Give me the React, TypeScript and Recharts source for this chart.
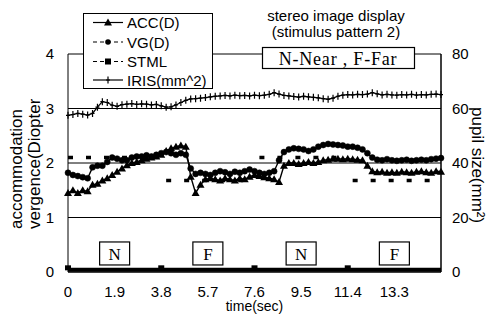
import { LineChart, Line, XAxis, YAxis, CartesianGrid, ReferenceDot } from "recharts";

document.body.style.margin = "0";

const FONT = '"Liberation Sans", Arial, sans-serif';
const SERIF = '"Liberation Serif", "Times New Roman", serif';

// time (sec), sampled every 0.2 s
const times = [
  0, 0.2, 0.4, 0.6, 0.8, 1.0, 1.2, 1.4, 1.6, 1.8,
  2.0, 2.2, 2.4, 2.6, 2.8, 3.0, 3.2, 3.4, 3.6, 3.8,
  4.0, 4.2, 4.4, 4.6, 4.8, 5.0, 5.2, 5.4, 5.6, 5.8,
  6.0, 6.2, 6.4, 6.6, 6.8, 7.0, 7.2, 7.4, 7.6, 7.8,
  8.0, 8.2, 8.4, 8.6, 8.8, 9.0, 9.2, 9.4, 9.6, 9.8,
  10.0, 10.2, 10.4, 10.6, 10.8, 11.0, 11.2, 11.4, 11.6, 11.8,
  12.0, 12.2, 12.4, 12.6, 12.8, 13.0, 13.2, 13.4, 13.6, 13.8,
  14.0, 14.2, 14.4, 14.6, 14.8, 15.0, 15.2,
];

// accommodation (D)
const acc = [
  1.45, 1.5, 1.45, 1.5, 1.48, 1.6, 1.62, 1.68, 1.72, 1.78,
  1.84, 1.9, 1.96, 2.0, 2.02, 2.05, 2.08, 2.1, 2.12, 2.15,
  2.22, 2.27, 2.3, 2.32, 2.3, 1.75, 1.45, 1.6, 1.7, 1.72,
  1.7, 1.68, 1.72, 1.7, 1.68, 1.72, 1.7, 1.75, 1.78, 1.76,
  1.74, 1.72, 1.7, 1.65, 1.95, 2.0, 2.0, 1.98, 2.0, 2.02,
  2.0, 2.02, 2.05, 2.06, 2.08, 2.08, 2.07, 2.08, 2.07, 2.06,
  2.05, 1.95, 1.85, 1.83, 1.84, 1.82, 1.83, 1.82, 1.84, 1.83,
  1.82, 1.84, 1.85, 1.83, 1.82, 1.85, 1.84,
];

// vergence (D)
const vg = [
  1.82, 1.78, 1.76, 1.74, 1.72, 1.92, 1.95, 1.95, 2.02, 2.1,
  2.08, 2.05, 2.05, 2.1, 2.12, 2.12, 2.14, 2.12, 2.15, 2.18,
  2.2, 2.18, 2.15, 2.18, 2.15, 1.9, 1.8, 1.82, 1.8, 1.78,
  1.82, 1.85, 1.83, 1.8, 1.84, 1.82, 1.85, 1.88, 1.85, 1.82,
  1.8, 1.82, 1.85, 2.05, 2.2, 2.25, 2.27, 2.26, 2.25, 2.22,
  2.25, 2.3, 2.33, 2.35, 2.34, 2.33, 2.32, 2.3, 2.3, 2.28,
  2.25, 2.18, 2.1, 2.06, 2.05, 2.07, 2.05, 2.04, 2.05, 2.06,
  2.04, 2.05, 2.06, 2.05, 2.07, 2.08, 2.09,
];

// stimulus (D): N = near, F = far
const stml = [
  2.1, 2.1, 2.1, 2.1, 2.1, 2.1, 2.1, 2.1, 2.1, 2.1,
  2.1, 2.1, 2.1, 2.1, 2.1, 2.1, 2.1, 2.1, 2.1, null,
  1.68, 1.68, 1.68, 1.68, 1.68, 1.68, 1.68, 1.68, 1.68, 1.68,
  1.68, 1.68, 1.68, 1.68, 1.68, 1.68, 1.68, 1.68, null, 2.1,
  2.1, 2.1, 2.1, 2.1, 2.1, 2.1, 2.1, 2.1, 2.1, 2.1,
  2.1, 2.1, 2.1, 2.1, 2.1, 2.1, 2.1, null, 1.68, 1.68,
  1.68, 1.68, 1.68, 1.68, 1.68, 1.68, 1.68, 1.68, 1.68, 1.68,
  1.68, 1.68, 1.68, 1.68, 1.68, 1.68, 1.68,
];

// pupil area (mm^2), right axis
const iris = [
  57.5, 57.8, 58.2, 57.9, 57.6, 58.2, 60.5, 62.5, 62.2, 61.2,
  60.8, 61.4, 61.6, 61.8, 61.5, 61.7, 61.6, 61.3, 61.5, 61.0,
  60.5, 60.6, 61.3, 62.2, 63.0, 63.5, 63.6, 63.8, 64.0, 64.3,
  64.5, 64.6, 64.8, 64.6, 64.9, 64.7, 64.8, 64.6, 64.9, 64.7,
  64.9, 65.2, 65.8, 65.3, 64.8, 64.6, 64.4, 64.2, 64.5, 64.3,
  64.1, 63.9, 63.6, 63.4, 63.8, 64.5, 64.9, 65.1, 65.0, 65.2,
  65.1, 65.3, 65.8, 65.4, 65.0, 65.2, 65.0, 64.9, 65.1, 65.0,
  65.2, 64.9, 65.1, 65.0, 65.2, 65.3, 65.1,
];

// trigger channel drawn along the bottom
const triggerLevel = 0.04;
const triggerTimes = [0, 3.8, 7.6, 11.4];

const xTicks = [0, 1.9, 3.8, 5.7, 7.6, 9.5, 11.4, 13.3];
const leftTicks = [0, 1, 2, 3, 4];
const rightTicks = [0, 20, 40, 60, 80];

const stimTimes = [1.9, 5.7, 9.5, 13.3];
const stimLabels = ["N", "F", "N", "F"];
const stimBoxLevel = 0.34;

const data = times.map((t, i) => ({
  t,
  acc: acc[i],
  vg: vg[i],
  stml: stml[i],
  iris: iris[i],
  trig: triggerLevel,
}));

function TriangleDot(props: any) {
  const { cx, cy, index } = props;
  if (cx == null || cy == null) return <g key={index} />;
  return (
    <path
      key={index}
      d={`M${cx},${cy - 4}L${cx + 4},${cy + 3}L${cx - 4},${cy + 3}Z`}
      fill="#000"
    />
  );
}

function PlusDot(props: any) {
  const { cx, cy, index } = props;
  if (cx == null || cy == null) return <g key={index} />;
  return (
    <path
      key={index}
      d={`M${cx - 2},${cy}H${cx + 2}M${cx},${cy - 3.5}V${cy + 3.5}`}
      stroke="#000"
      strokeWidth={1.2}
    />
  );
}

function TriggerDot(props: any) {
  const { cx, cy, payload, index } = props;
  if (cx == null || !triggerTimes.includes(payload.t)) return <g key={index} />;
  return <rect key={index} x={cx - 3} y={cy - 4.5} width={6} height={5} fill="#000" />;
}

function Legend() {
  const rows = [
    { name: "ACC(D)", y: 22.5, dash: undefined, mark: "tri" },
    { name: "VG(D)", y: 42, dash: "4 3", mark: "circle" },
    { name: "STML", y: 61.5, dash: "4 3", mark: "square" },
    { name: "IRIS(mm^2)", y: 80, dash: undefined, mark: "plus" },
  ];
  return (
    <g>
      <rect x={83.5} y={13.5} width={129} height={75} fill="#fff" stroke="#000" strokeWidth={1} />
      {rows.map((r) => (
        <g key={r.name}>
          <line x1={93} x2={123} y1={r.y} y2={r.y} stroke="#000" strokeWidth={1.2} strokeDasharray={r.dash} />
          {r.mark === "tri" && <TriangleDot cx={108} cy={r.y} />}
          {r.mark === "circle" && <circle cx={108} cy={r.y} r={2.8} fill="#000" />}
          {r.mark === "square" && <rect x={105} y={r.y - 3} width={6} height={6} fill="#000" />}
          {r.mark === "plus" && <PlusDot cx={108} cy={r.y} />}
          <text x={127} y={r.y} dominantBaseline="central" fontFamily={FONT} fontSize={15}>
            {r.name}
          </text>
        </g>
      ))}
    </g>
  );
}

export default function App() {
  return (
    <div style={{ position: "relative", width: 487, height: 320, background: "#fff" }}>
      <LineChart width={487} height={320} data={data} margin={{ top: 54, right: 0, bottom: 0, left: 0 }}>
        <CartesianGrid yAxisId="left" vertical={false} stroke="#000" strokeWidth={1} />
        <XAxis
          dataKey="t"
          type="number"
          domain={[0, 15.2]}
          ticks={xTicks}
          height={48}
          axisLine={{ stroke: "#000" }}
          tickLine={false}
          tickMargin={8}
          tick={{ fill: "#000", fontSize: 15, fontFamily: FONT }}
          label={{ value: "time(sec)", position: "insideBottom", offset: 9, fill: "#000", fontSize: 14, fontFamily: FONT }}
        />
        <YAxis
          yAxisId="left"
          domain={[0, 4]}
          ticks={leftTicks}
          width={68}
          axisLine={{ stroke: "#000" }}
          tickLine={false}
          tickMargin={8}
          tick={{ fill: "#000", fontSize: 15, fontFamily: FONT }}
        />
        <YAxis
          yAxisId="right"
          orientation="right"
          domain={[0, 80]}
          ticks={rightTicks}
          width={46}
          axisLine={{ stroke: "#000", strokeWidth: 1.5 }}
          tickLine={false}
          tickMargin={5}
          tick={{ fill: "#000", fontSize: 15, fontFamily: FONT }}
        />
        <Line
          yAxisId="left"
          dataKey="trig"
          stroke="#000"
          strokeWidth={4}
          dot={TriggerDot}
          isAnimationActive={false}
        />
        <Line
          yAxisId="left"
          dataKey="stml"
          stroke="#000"
          strokeWidth={3.5}
          strokeDasharray="5 13"
          dot={false}
          isAnimationActive={false}
        />
        <Line
          yAxisId="left"
          dataKey="vg"
          stroke="#000"
          strokeWidth={1.4}
          dot={{ r: 3, fill: "#000", stroke: "#000", strokeWidth: 0.5 }}
          isAnimationActive={false}
        />
        <Line
          yAxisId="left"
          dataKey="acc"
          stroke="#000"
          strokeWidth={1.4}
          dot={TriangleDot}
          isAnimationActive={false}
        />
        <Line
          yAxisId="right"
          dataKey="iris"
          stroke="#000"
          strokeWidth={1.3}
          dot={PlusDot}
          isAnimationActive={false}
        />
        {stimTimes.map((t, i) => (
          <ReferenceDot
            key={i}
            yAxisId="left"
            x={t}
            y={stimBoxLevel}
            r={0}
            shape={(p: any) => (
              <g>
                <rect x={p.cx - 15} y={p.cy - 11.5} width={30} height={23} fill="#fff" stroke="#000" strokeWidth={1.2} />
                <text x={p.cx} y={p.cy + 1} textAnchor="middle" dominantBaseline="central" fontFamily={SERIF} fontSize={17}>
                  {stimLabels[i]}
                </text>
              </g>
            )}
          />
        ))}
      </LineChart>
      <svg width={487} height={320} style={{ position: "absolute", left: 0, top: 0, pointerEvents: "none" }}>
        <defs>
          <clipPath id="ytitleClip">
            <rect x={0} y={99} width={60} height={200} />
          </clipPath>
        </defs>
        <g clipPath="url(#ytitleClip)" fontFamily={FONT} fontSize={17} fill="#000">
          <text x={22} y={229} transform="rotate(-90 22 229)">accommodation</text>
          <text x={40} y={229} transform="rotate(-90 40 229)">vergence(Diopter)</text>
        </g>
        <text x={472} y={107} transform="rotate(90 472 107)" fontFamily={FONT} fontSize={17} fill="#000">
          pupil size(mm²)
        </text>
        <text x={336} y={21} textAnchor="middle" fontFamily={FONT} fontSize={15} fill="#000">
          stereo image display
        </text>
        <text x={336} y={37} textAnchor="middle" fontFamily={FONT} fontSize={15} fill="#000">
          (stimulus pattern 2)
        </text>
        <rect x={262.5} y={47.5} width={152} height={21} fill="#fff" stroke="#000" strokeWidth={1.2} />
        <text x={338} y={58.5} textAnchor="middle" dominantBaseline="central" fontFamily={SERIF} fontSize={18} letterSpacing={0.8} fill="#000">
          N-Near , F-Far
        </text>
        <Legend />
      </svg>
    </div>
  );
}
